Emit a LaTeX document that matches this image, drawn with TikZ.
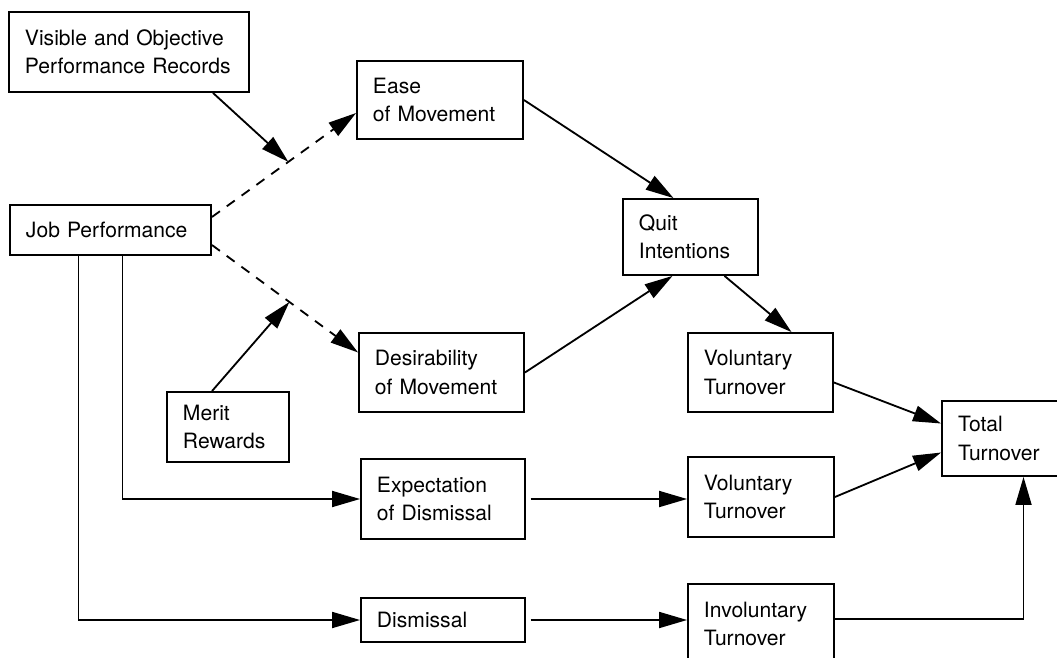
\documentclass[tikz,border=0pt]{standalone}
\usepackage{fontspec}
\setmainfont{TeX Gyre Heros}
\usepackage{tikz}
\usetikzlibrary{arrows.meta}
\usetikzlibrary{calc}

\begin{document}
\begin{tikzpicture}[x=0.025cm,y=-0.025cm,line width=1.3pt,>={Triangle[length=7mm,width=4mm]},
	box node/.style={draw, line width=1.3pt, align=left, inner xsep=0.4cm, font=\fontsize{15}{20}\selectfont}]
			\useasboundingbox (0,0) rectangle (1057,657);
			% Nodes
			\node[box node, text width=5.2cm, minimum height=2cm] (vopr) at (129,52) {Visible and Objective\\Performance Records};
			\node[box node, text width=4.225cm, minimum height=1.25cm] (jobperf) at (110.5,230) {Job Performance};
			\node[box node, text width=3.35cm, minimum height=1.95cm] (ease) at (440,100) {Ease\\of Movement};
			\node[box node, text width=3.325cm, minimum height=1.975cm] (desir) at (441.5,372.5) {Desirability\\of Movement};
			\node[box node, text width=2.25cm, minimum height=1.75cm] (merit) at (228,427) {Merit\\Rewards};
			\node[box node, text width=2.575cm, minimum height=1.9cm] (quit) at (690.5,237) {Quit\\Intentions};
			\node[box node, text width=3.3cm, minimum height=2cm] (expect) at (443,499) {Expectation\\of Dismissal};
			\node[box node, text width=3.3cm, minimum height=1.1cm] (dism) at (443,620) {Dismissal};
			\node[box node, text width=2.825cm, minimum height=1.975cm] (vol1) at (760.5,372.5) {Voluntary\\Turnover};
			\node[box node, text width=2.85cm, minimum height=2cm] (vol2) at (761,497) {Voluntary\\Turnover};
			\node[box node, text width=2.85cm, minimum height=2cm] (invol) at (761,624) {Involuntary\\Turnover};
			\node[box node, text width=2.575cm, minimum height=1.875cm] (total) at (1009.5,438.5) {Total\\Turnover};
			
			% dashed paths from job performance
			\draw[->, dash pattern=on 7pt off 6pt] ($(jobperf.east)+(0,-13)$) -- ($(ease.west)+(0,13)$) coordinate[pos=0.53] (p1);
			\draw[->, dash pattern=on 7pt off 6pt] ($(jobperf.east)+(0,15)$) -- ($(desir.west)+(0,-20)$) coordinate[pos=0.53] (p2);
			\draw[->] ($(vopr.south)+(84,0)$) -- (p1);
			\draw[->] ($(merit.north)+(-16,0)$) -- (p2);
			
			\draw[->] (ease.east) -- ($(quit.north)+(-17,0)$);
			\draw[->] (desir.east) -- ($(quit.south)+(-18,0)$);
			\draw[->] ($(quit.south)+(34,0)$) -- ($(vol1.north)+(31,0)$);
			\draw[->] ($(vol1.east)+(0,10)$) -- ($(total.west)+(0,-15)$);
			\draw[->] (vol2.east) -- ($(total.west)+(0,14)$);
			
			\draw[->] ($(jobperf.south)+(12,0)$) |- (expect.west);
			\draw[->] ($(jobperf.south)+(-32,0)$) |- (dism.west);
			\draw[->, shorten <=1.2mm] (expect.east) -- (expect.east -| vol2.west);
			\draw[->, shorten <=1.2mm] (dism.east) -- (dism.east -| invol.west);
			\draw[->] ($(invol.east)+(0,-5)$) -| ($(total.south)+(14,0)$);
			
		\end{tikzpicture}
\end{document}
